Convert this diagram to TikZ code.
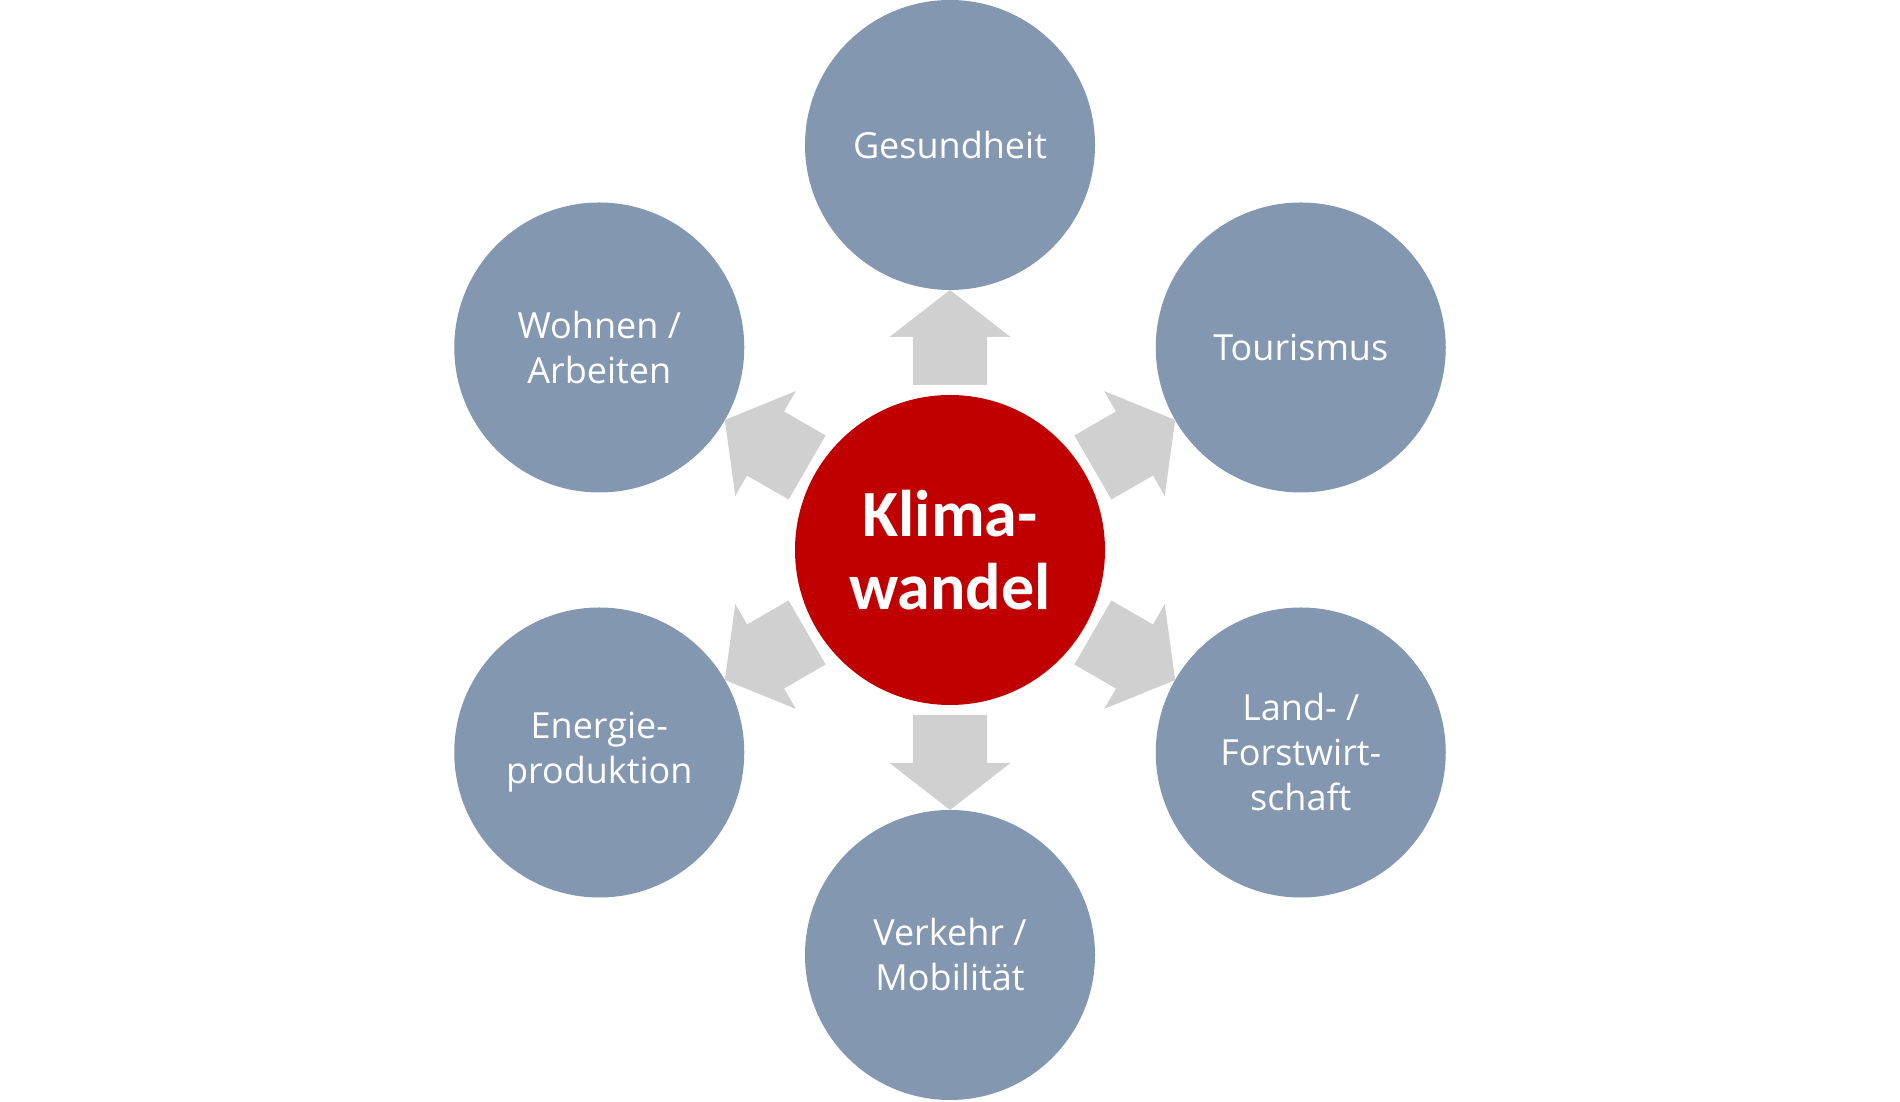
\documentclass[tikz,border=0pt]{standalone}
\usepackage{fontspec}
\setmainfont{Carlito}
\newfontfamily\satfont{Open Sans}
\usetikzlibrary{calc}
\definecolor{satblue}{HTML}{8497B0}
\definecolor{hubred}{HTML}{C00000}
\definecolor{arrowgray}{HTML}{D0D0D0}
\begin{document}
\begin{tikzpicture}[x=0.5pt,y=0.5pt,
  hub/.style={circle,fill=hubred,minimum size=155pt,inner sep=0pt,text=white,
    font=\fontsize{33}{36.5}\selectfont\bfseries,align=center},
  sat/.style={circle,fill=satblue,minimum size=145pt,inner sep=0pt,text=white,
    font=\satfont\fontsize{18}{22.5}\selectfont,align=center},
  blockarrow/.style={fill=arrowgray}]
\useasboundingbox (0,0) rectangle (1900,1102);
\node[hub] (k) at (950,552) {Klima-\\wandel};
\node[sat] (g) at ($(k.center)+(90:405)$) {Gesundheit};
\node[sat] (t) at ($(k.center)+(30:405)$) {Tourismus};
\node[sat] (l) at ($(k.center)+(-30:405)$) {Land- /\\Forstwirt-\\schaft};
\node[sat] (v) at ($(k.center)+(-90:405)$) {Verkehr /\\Mobilität};
\node[sat] (e) at ($(k.center)+(-150:405)$) {Energie-\\produktion};
\node[sat] (w) at ($(k.center)+(150:405)$) {Wohnen /\\Arbeiten};
\foreach \a in {90,30,-30,-90,-150,150}{
  \fill[blockarrow,shift={(k.center)},rotate=\a]
    (165,-37) -- (213,-37) -- (213,-60.5) -- (260,0) -- (213,60.5) -- (213,37) -- (165,37) -- cycle;
}
\end{tikzpicture}
\end{document}
